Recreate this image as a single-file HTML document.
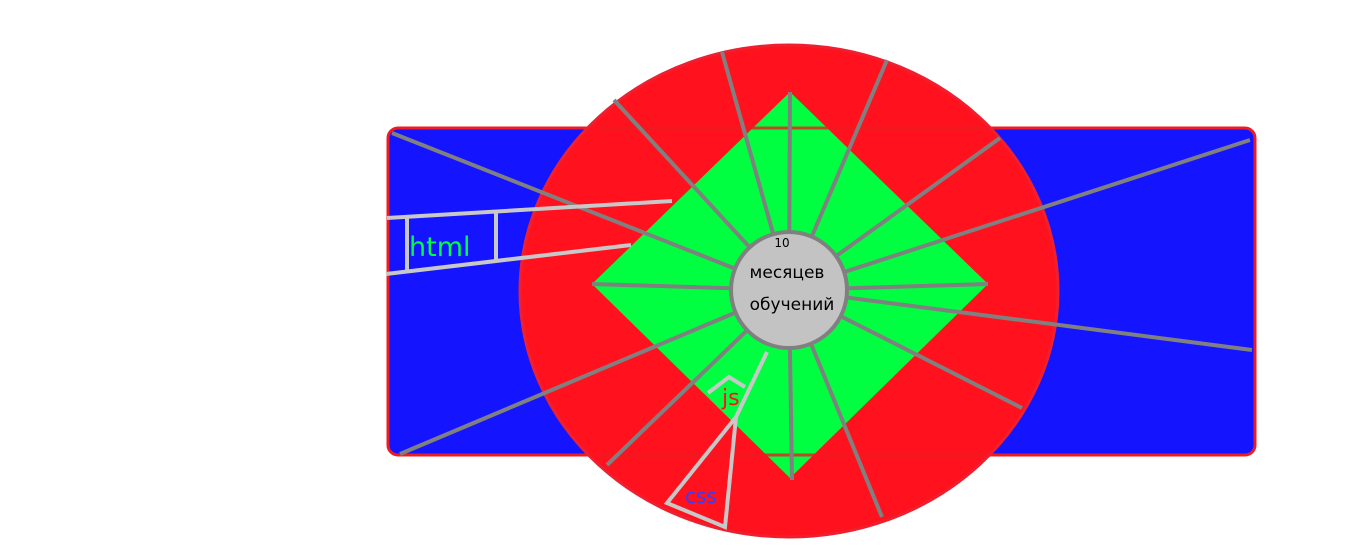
<!DOCTYPE html>
<html><head><meta charset="utf-8"><style>
html,body{margin:0;padding:0;background:#fff;width:1360px;height:550px;overflow:hidden}
svg{display:block}
text{font-family:"DejaVu Sans","Liberation Sans",sans-serif}
</style></head><body>
<svg width="1360" height="550" viewBox="0 0 1360 550">
<rect x="388" y="128" width="867" height="327" rx="10" fill="#1414ff" stroke="#ed1c24" stroke-width="3"/>
<ellipse cx="789" cy="291" rx="269" ry="246" fill="#ff111e" stroke="#ee2030" stroke-width="3"/>
<polygon points="790,92 988,284 790,478 592,284" fill="#00ff40"/>
<g stroke="#ed1c24" stroke-width="3" opacity="0.8">
<line x1="600" y1="128" x2="990" y2="128"/><line x1="600" y1="455" x2="990" y2="455"/>
</g>
<g stroke="#808080" stroke-width="4">
<line x1="392" y1="133" x2="789" y2="290"/>
<line x1="614" y1="100" x2="789" y2="290"/>
<line x1="722" y1="52" x2="789" y2="290"/>
<line x1="790" y1="92" x2="789" y2="290"/>
<line x1="887" y1="60" x2="789" y2="290"/>
<line x1="1000" y1="138" x2="789" y2="290"/>
<line x1="1250" y1="140" x2="789" y2="290"/>
<line x1="988" y1="284" x2="789" y2="290"/>
<line x1="1252" y1="350" x2="789" y2="290"/>
<line x1="1022" y1="408" x2="789" y2="290"/>
<line x1="882" y1="517" x2="789" y2="290"/>
<line x1="792" y1="480" x2="789" y2="290"/>
<line x1="607" y1="465" x2="789" y2="290"/>
<line x1="400" y1="454" x2="789" y2="290"/>
<line x1="592" y1="284" x2="789" y2="290"/>
</g>
<circle cx="789" cy="290" r="58" fill="#c3c3c3" stroke="#808080" stroke-width="4"/>
<text x="782" y="247" font-size="12" text-anchor="middle" fill="#000">10</text>
<text x="787" y="278" font-size="17" text-anchor="middle" fill="#000">месяцев</text>
<text x="792" y="310" font-size="17" text-anchor="middle" fill="#000">обучений</text>
<g stroke="#c8c8c8" stroke-width="4" fill="none">
<line x1="387" y1="218" x2="672" y2="201"/>
<line x1="386" y1="274" x2="631" y2="245"/>
<line x1="407" y1="218" x2="407" y2="271"/>
<line x1="496" y1="213" x2="496" y2="262"/>
</g>
<text x="409" y="256" font-size="27" fill="#00ff40">html</text>
<g stroke="#c8c8c8" stroke-width="4" fill="none" stroke-linejoin="miter">
<polyline points="708,393 729,377 745,387"/>
<polyline points="767,352 736,417 725,527 667,503 736,417"/>
</g>
<text x="722" y="405" font-size="22" fill="#ff1020">js</text>
<text x="685" y="503" font-size="20" fill="#3040ff">css</text>
</svg>
</body></html>
